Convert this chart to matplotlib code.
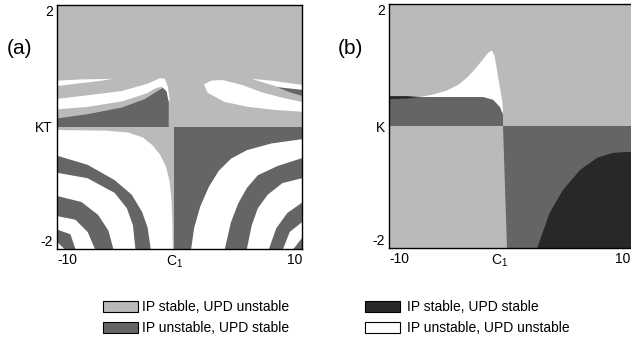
import matplotlib
matplotlib.use("Agg")
import matplotlib.pyplot as plt
from matplotlib.patches import Rectangle

# ---------------- data ----------------
categories = ["IP stable, UPD unstable", "IP unstable, UPD stable",
              "IP stable, UPD stable", "IP unstable, UPD unstable"]
x_tick_labels = ["-10", "C$_1$", "10"]
y_tick_labels_a = ["2", "KT", "-2"]
y_tick_labels_b = ["2", "K", "-2"]
panel_labels = ["(a)", "(b)"]

# Panel (a): lower-left quadrant, nested boundaries (left edge -> bottom edge)
a_ll_1 = [(-10, -0.05), (-6, -0.06), (-4.2, -0.09), (-3.0, -0.17), (-2.2, -0.30),
          (-1.6, -0.45), (-1.1, -0.65), (-0.8, -0.90), (-0.65, -1.2), (-0.58, -1.6), (-0.55, -2)]
a_ll_2 = [(-10, -0.47), (-7.5, -0.62), (-5.3, -0.87), (-3.9, -1.11), (-3.06, -1.39),
          (-2.6, -1.65), (-2.35, -2)]
a_ll_3 = [(-10, -0.75), (-7.5, -0.84), (-5.3, -1.08), (-4.3, -1.33), (-3.8, -1.61), (-3.6, -2)]
a_ll_4 = [(-10, -1.13), (-8.0, -1.23), (-6.65, -1.44), (-5.8, -1.70), (-5.4, -2)]
a_ll_5 = [(-10, -1.46), (-8.5, -1.52), (-7.5, -1.72), (-6.9, -2)]
a_ll_6 = [(-10, -1.68), (-8.9, -1.76), (-8.5, -2)]
a_ll_7 = [(-10, -1.88), (-9.4, -2)]
a_ll_codes = [3, 1, 3, 1, 3, 1, 3]

# Panel (a): lower-right quadrant, nested boundaries (right edge -> bottom edge)
a_lr_base_left = -0.45
a_lr_1 = [(10, -0.20), (7.5, -0.27), (5.5, -0.38), (4.2, -0.52), (3.2, -0.72),
          (2.4, -0.98), (1.7, -1.3), (1.2, -1.65), (0.95, -2)]
a_lr_2 = [(10, -0.51), (8.0, -0.64), (6.4, -0.79), (5.5, -1.0), (4.8, -1.25), (4.2, -1.56), (3.7, -2)]
a_lr_3 = [(10, -0.84), (8.4, -0.92), (7.2, -1.11), (6.4, -1.33), (5.9, -1.61), (5.5, -2)]
a_lr_4 = [(10, -1.24), (8.8, -1.41), (7.9, -1.66), (7.3, -2)]
a_lr_5 = [(10, -1.56), (9.0, -1.72), (8.45, -2)]
a_lr_6 = [(10, -1.82), (9.3, -2)]
a_lr_codes = [3, 1, 3, 1, 3, 1]

# Panel (a): upper half features
a_ul_streak = [(-10, 0.76), (-8, 0.78), (-5.4, 0.79), (-6.5, 0.755), (-8, 0.72), (-10, 0.67)]
a_ul_white = [(-10, 0.46), (-7.5, 0.52), (-4.7, 0.59), (-2.6, 0.71), (-1.6, 0.80), (-1.2, 0.79),
              (-0.95, 0.66), (-0.78, 0.42), (-0.95, 0.45), (-1.15, 0.60), (-1.45, 0.66),
              (-1.9, 0.64), (-2.7, 0.55), (-4.7, 0.42), (-7.5, 0.33), (-10, 0.29)]
a_ul_dark = [(-10, 0.0), (-10, 0.14), (-7.5, 0.21), (-4.7, 0.32), (-2.8, 0.46), (-1.8, 0.59),
             (-1.35, 0.64), (-1.05, 0.58), (-0.88, 0.40), (-0.88, 0.0)]
a_ur_white = [(2.0, 0.70), (2.6, 0.76), (3.5, 0.77), (5.1, 0.69), (6.7, 0.57), (8.4, 0.48),
              (10, 0.41), (10, 0.25), (7.8, 0.28), (5.6, 0.33), (3.7, 0.41), (2.3, 0.56)]
a_ur_streak = [(5.9, 0.79), (7.5, 0.76), (10, 0.69), (10, 0.60), (8.0, 0.66), (6.5, 0.75)]
a_ur_dark = [(8.0, 0.65), (9.0, 0.63), (10, 0.61), (10, 0.51), (9.0, 0.57)]

# Panel (b)
b_white = [(-7.6, 0.47), (-6.5, 0.51), (-5.3, 0.58), (-4.3, 0.68), (-3.6, 0.80), (-2.9, 0.95),
           (-2.3, 1.10), (-1.9, 1.20), (-1.6, 1.24), (-1.4, 1.16), (-1.25, 1.0), (-1.1, 0.80),
           (-0.9, 0.58), (-0.75, 0.40), (-0.69, 0.22), (-2.0, 0.30), (-7.6, 0.40)]
b_ul_dark = [(-10, 0.0), (-10, 0.475), (-2.3, 0.475), (-1.5, 0.43), (-0.94, 0.31),
             (-0.69, 0.18), (-0.69, 0.0)]
b_ul_darkest = [(-10, 0.49), (-8.5, 0.49), (-7.5, 0.475), (-8.5, 0.45), (-10, 0.44)]
b_lr_dark = [(-0.69, 0.0), (10, 0.0), (10, -2), (-0.37, -2)]
b_lr_darkest = [(2.1, -2), (3.1, -1.43), (4.2, -1.05), (5.6, -0.72), (7.0, -0.52),
                (8.3, -0.44), (10, -0.42), (10, -2)]

# ---------------- style ----------------
plt.rcParams["font.family"] = ["Liberation Sans", "DejaVu Sans"]
plt.rcParams["mathtext.default"] = "regular"
COL = {0: "#bababa", 1: "#656565", 2: "#282828", 3: "#ffffff"}

W, H = 631, 346
fig = plt.figure(figsize=(W / 100, H / 100), dpi=100)


def px_axes(l, t, r, b):
    return fig.add_axes([l / W, 1 - b / H, (r - l) / W, (b - t) / H])


def poly(ax, pts, code):
    xs = [p[0] for p in pts]
    ys = [p[1] for p in pts]
    ax.fill(xs, ys, color=COL[code], lw=0)


def beyond(ax, curve, corner, code):
    poly(ax, list(curve) + [corner], code)


def setup(ax, ylabels, cpos, right_pos):
    ax.set_xlim(-10, 10)
    ax.set_ylim(-2, 2)
    ax.set_xticks([-10, cpos, right_pos])
    ax.set_xticklabels(x_tick_labels, fontsize=10)
    ax.set_yticks([2, 0, -2])
    ax.set_yticklabels(ylabels, fontsize=10)
    ax.tick_params(length=0, pad=3)
    xl = ax.get_xticklabels()
    xl[0].set_ha("left")
    xl[2].set_ha("right")
    yl = ax.get_yticklabels()
    yl[0].set_va("top")
    yl[2].set_va("bottom")
    for s in ax.spines.values():
        s.set_linewidth(1.0)
        s.set_zorder(5)


# ---- panel (a)
axa = px_axes(57, 5, 302, 249)
axa.add_patch(Rectangle((-10, -2), 20, 4, color=COL[0], lw=0))
poly(axa, [(a_lr_base_left, 0), (10, 0), (10, -2), (a_lr_base_left, -2)], 1)
for cur, code in zip([a_ll_1, a_ll_2, a_ll_3, a_ll_4, a_ll_5, a_ll_6, a_ll_7], a_ll_codes):
    beyond(axa, cur, (-10, -2), code)
for cur, code in zip([a_lr_1, a_lr_2, a_lr_3, a_lr_4, a_lr_5, a_lr_6], a_lr_codes):
    beyond(axa, cur, (10, -2), code)
poly(axa, a_ul_streak, 3)
poly(axa, a_ul_white, 3)
poly(axa, a_ul_dark, 1)
poly(axa, a_ur_white, 3)
poly(axa, a_ur_streak, 3)
poly(axa, a_ur_dark, 1)
setup(axa, y_tick_labels_a, -0.4, 10)

# ---- panel (b)
axb = px_axes(389, 4, 634, 248)
axb.add_patch(Rectangle((-10, -2), 20, 4, color=COL[0], lw=0))
poly(axb, b_white, 3)
poly(axb, b_ul_dark, 1)
poly(axb, b_ul_darkest, 2)
poly(axb, b_lr_dark, 1)
poly(axb, b_lr_darkest, 2)
setup(axb, y_tick_labels_b, -1.0, 9.7)

# panel labels
fig.text(20 / W, 1 - 48 / H, panel_labels[0], fontsize=15, ha="center", va="center")
fig.text(350 / W, 1 - 48 / H, panel_labels[1], fontsize=15, ha="center", va="center")

# legend
leg_pos = [(103, 301, 142), (103, 322, 142), (365, 301, 407), (365, 322, 407)]
for (x0, y0, tx), code, lab in zip(leg_pos, [0, 1, 2, 3], categories):
    fig.add_artist(Rectangle((x0 / W, 1 - (y0 + 11) / H), 35 / W, 11 / H,
                             transform=fig.transFigure, facecolor=COL[code],
                             edgecolor="black", lw=0.8))
    fig.text(tx / W, 1 - (y0 + 6) / H, lab, fontsize=10, ha="left", va="center")

fig.savefig("out.png", dpi=100)
